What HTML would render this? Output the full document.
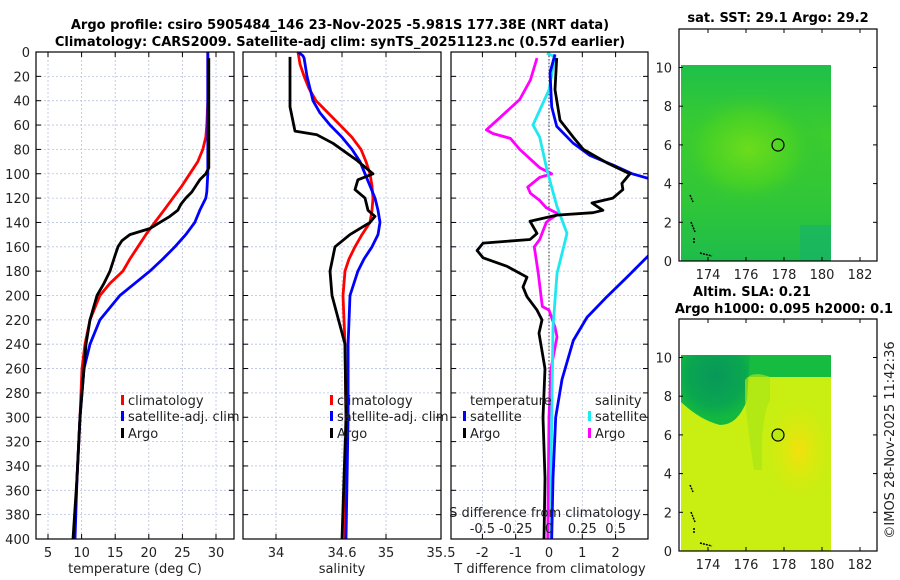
<!DOCTYPE html>
<html><head><meta charset="utf-8">
<style>
html,body{margin:0;padding:0;background:#fff;}
svg{display:block;font-family:"DejaVu Sans","Liberation Sans",sans-serif;}
</style></head>
<body>
<svg id="fig" width="900" height="580" viewBox="0 0 900 580">
<defs>
<clipPath id="c1"><rect x="36" y="52" width="198" height="487"/></clipPath>
<clipPath id="c2"><rect x="243" y="52" width="198" height="487"/></clipPath>
<clipPath id="c3"><rect x="451" y="52" width="197" height="487"/></clipPath>
<radialGradient id="sstBlob" cx="0.45" cy="0.45" r="0.5"><stop offset="0" stop-color="#6cdc1c"/><stop offset="0.6" stop-color="#44d028"/><stop offset="1" stop-color="#2cc43a" stop-opacity="0"/></radialGradient>
<linearGradient id="sstBase" x1="0" y1="0" x2="0" y2="1"><stop offset="0" stop-color="#1ec04a"/><stop offset="0.35" stop-color="#3ccc2e"/><stop offset="0.7" stop-color="#30c638"/><stop offset="1" stop-color="#1ebc4c"/></linearGradient>
<radialGradient id="slaYel" cx="0.55" cy="0.5" r="0.5"><stop offset="0" stop-color="#f4e00c"/><stop offset="1" stop-color="#d4ee10" stop-opacity="0"/></radialGradient>
<radialGradient id="slaDark" cx="0.5" cy="0.3" r="0.6"><stop offset="0" stop-color="#08985a"/><stop offset="0.7" stop-color="#0aa650"/><stop offset="1" stop-color="#12b840"/></radialGradient>
</defs>
<g id="titles">
<text x="340" y="29" text-anchor="middle" font-size="13" font-weight="bold">Argo profile: csiro 5905484_146 23-Nov-2025 -5.981S 177.38E (NRT data)</text>
<text x="340" y="46" text-anchor="middle" font-size="13" font-weight="bold">Climatology: CARS2009. Satellite-adj clim: synTS_20251123.nc (0.57d earlier)</text>
</g>
<g id="p1"></g>
<g id="p2"></g>
<g id="p3"></g>
<g id="m1">
<text x="778" y="22" text-anchor="middle" font-size="13" font-weight="bold">sat. SST: 29.1 Argo: 29.2</text>
<rect x="681" y="65" width="150" height="196" fill="url(#sstBase)"/>
<rect x="681" y="95" width="150" height="120" fill="url(#sstBlob)"/>
<rect x="800" y="225" width="31" height="36" fill="#18b466" opacity="0.7"/>
<circle cx="778" cy="145" r="6" fill="none" stroke="#000" stroke-width="1.2"/>
</g>
<g id="m2">
<text x="752" y="296" text-anchor="middle" font-size="13" font-weight="bold">Altim. SLA: 0.21</text>
<text x="784" y="313" text-anchor="middle" font-size="13" font-weight="bold">Argo h1000: 0.095 h2000: 0.1</text>
<rect x="681" y="355" width="150" height="196" fill="#c8ee12"/>
<rect x="681" y="355" width="150" height="22" fill="#16bc40"/>
<path d="M681 355 H750 L747 400 Q738 425 720 425 Q700 420 681 402 Z" fill="url(#slaDark)"/>
<path d="M745 380 Q752 370 770 377 L770 400 Q760 420 762 470 L754 470 Q748 430 745 400 Z" fill="#a8e614" opacity="0.7"/>
<rect x="760" y="395" width="71" height="110" fill="url(#slaYel)"/>
<circle cx="778" cy="435" r="6" fill="#b8ea12" stroke="#000" stroke-width="1.2"/>
</g>
<text transform="translate(894,440) rotate(-90)" text-anchor="middle" font-size="13" fill="#222">©IMOS 28-Nov-2025 11:42:36</text>
</svg>
<script>
// ===== data =====
const depthTicks = [0,20,40,60,80,100,120,140,160,180,200,220,240,260,280,300,320,340,360,380,400];
const tempTicks = [5,10,15,20,25,30];
const salTicks = [34,34.6,35,35.5];
const dTTicks = [-2,-1,0,1,2];
const dTLabels = ["-2","-1","0","1","2"];
const dSTicks = [-0.5,-0.25,0,0.25,0.5];
const dSLabels = ["-0.5","-0.25","0","0.25","0.5"];
const lonTicks = [174,176,178,180,182];
const latTicks = [0,2,4,6,8,10];

const tClimDepth = [0,20,40,60,70,80,90,100,110,120,130,140,150,160,170,180,190,200,220,240,260,300,350,400];
const tClimVal = [28.78,28.78,28.78,28.63,28.48,28.04,27.29,26.1,24.92,23.58,22.24,20.9,19.57,18.38,17.19,16.15,14.22,12.73,11.25,10.5,10.06,9.76,9.31,8.87];
const tSatDepth = [0,100,115,120,130,140,150,160,170,180,190,200,220,240,260,280,300,350,400];
const tSatVal = [28.78,28.78,28.63,28.48,27.59,26.85,25.51,23.88,22.09,20.16,17.93,15.7,12.73,11.25,10.36,10.06,9.76,9.31,9.02];
const tArgoDepth = [5,95,100,105,110,115,120,125,130,135,140,145,150,155,160,165,170,180,190,200,220,240,260,300,350,400];
const tArgoVal = [28.93,28.93,28.48,27.59,27.0,26.4,25.51,24.77,24.32,23.13,21.65,20.16,17.19,16.0,15.41,15.11,14.81,14.22,13.33,12.29,11.25,10.65,10.36,9.76,9.31,8.72];

const sClimDepth = [0,10,20,30,40,50,60,70,80,90,100,110,120,130,140,150,160,170,180,200,240,300,400];
const sClimVal = [34.2,34.218,34.255,34.3,34.364,34.473,34.582,34.69,34.773,34.818,34.855,34.873,34.882,34.873,34.855,34.782,34.718,34.664,34.627,34.609,34.627,34.636,34.627];
const sSatDepth = [0,3,5,20,40,50,60,70,80,90,100,110,120,130,140,150,160,170,180,200,240,300,400];
const sSatVal = [34.2,34.245,34.255,34.282,34.336,34.4,34.491,34.6,34.691,34.764,34.809,34.855,34.9,34.927,34.945,34.927,34.873,34.8,34.745,34.673,34.655,34.655,34.636];
const sArgoDepth = [4,45,65,68,75,89,100,105,113,120,130,135,140,150,160,180,200,240,300,350,400];
const sArgoVal = [34.127,34.127,34.173,34.373,34.518,34.736,34.882,34.745,34.718,34.809,34.836,34.9,34.855,34.673,34.536,34.491,34.509,34.627,34.636,34.618,34.6];

const dTSatDepth = [2,17,45,61,75,85,93,100,104,130,167,185,201,218,237,269,300,350,400];
const dTSatVal = [0.18,0.03,0.08,0.23,0.73,1.23,1.93,2.5,3.0,4.5,3.0,2.34,1.74,1.14,0.73,0.39,0.2,0.12,0.08];
const dTArgoDepth = [5,31,56,70,80,91,100,108,113,120,124,130,132,134,139,149,154,157,163,169,176,185,193,201,212,220,231,260,300,350,400];
const dTArgoVal = [0.23,0.18,0.33,0.73,1.03,1.74,2.43,2.19,2.22,1.92,1.29,1.62,1.32,0.24,-0.57,-0.36,-0.57,-1.98,-2.16,-1.98,-1.26,-0.66,-0.78,-0.66,-0.36,-0.21,-0.3,-0.12,-0.18,-0.12,-0.15];
const dSSatDepth = [1,4,31,60,70,97,127,149,182,226,300,400];
const dSSatVal = [-0.015,0.045,0.0,-0.12,-0.07,-0.015,0.06,0.135,0.06,0.03,0.02,0.01];
const dSArgoDepth = [5,23,39,56,64,67,71,80,95,100,103,111,116,122,128,133,138,140,154,160,182,209,212,226,234,260,300,400];
const dSArgoVal = [-0.09,-0.14,-0.22,-0.39,-0.47,-0.42,-0.29,-0.22,-0.07,0.02,-0.07,-0.16,-0.14,-0.07,-0.02,0.07,0.0,-0.02,-0.07,-0.11,-0.08,-0.05,0.0,0.045,0.06,0.015,0.0,-0.01];

// ===== helpers =====
const NS = "http://www.w3.org/2000/svg";
function mk(tag, attrs, parent){const e=document.createElementNS(NS,tag);for(const k in attrs)e.setAttribute(k,attrs[k]);parent.appendChild(e);return e;}
const yTop=52, yBot=539;
function yD(d){return yTop+(d/400)*(yBot-yTop);}
function lin(d0,d1,r0,r1){return v=>r0+(v-d0)/(d1-d0)*(r1-r0);}

function frame(g,x0,x1,xticksPos,showYLabels){
  xticksPos.forEach(x=>{mk('line',{x1:x,x2:x,y1:yTop,y2:yBot,stroke:'#b8c0e0','stroke-width':0.8,'stroke-dasharray':'2,2'},g);});
  depthTicks.forEach(d=>{const y=yD(d);
    mk('line',{x1:x0,x2:x1,y1:y,y2:y,stroke:'#b8c0e0','stroke-width':0.8,'stroke-dasharray':'2,2'},g);
    mk('line',{x1:x0,x2:x0+5,y1:y,y2:y,stroke:'#000','stroke-width':1},g);
    mk('line',{x1:x1-5,x2:x1,y1:y,y2:y,stroke:'#000','stroke-width':1},g);
    if(showYLabels){const t=mk('text',{x:30,y:y+5,'text-anchor':'end','font-size':13,fill:'#222'},g);t.textContent=d;
      
      }
  });
  xticksPos.forEach(x=>{mk('line',{x1:x,x2:x,y1:yTop,y2:yTop+5,stroke:'#000'},g);mk('line',{x1:x,x2:x,y1:yBot-5,y2:yBot,stroke:'#000'},g);});
}
function border(g,x0,x1,name){const r=mk('rect',{x:x0,y:yTop,width:x1-x0,height:yBot-yTop,fill:'none',stroke:'#000','stroke-width':1.2},g);
  
  }
function series(g,depths,vals,sx,color,clip,name){
  const pts=depths.map((d,i)=>sx(vals[i]).toFixed(1)+','+yD(d).toFixed(1)).join(' ');
  const p=mk('polyline',{points:pts,fill:'none',stroke:color,'stroke-width':2.8,'stroke-linejoin':'round','clip-path':'url(#'+clip+')'},g);
  
  
}
function label(g,x,y,txt,anchor,name,size){const t=mk('text',{x:x,y:y,'text-anchor':anchor||'middle','font-size':size||13,fill:'#222'},g);t.textContent=txt;
  
  return t;}
function legend(g,x,y,color,txt,name){mk('rect',{x:x,y:y-10,width:3,height:10,fill:color},g);
  label(g,x+7,y,txt,'start',name);}

// ===== panel 1 temperature =====
(function(){const g=document.getElementById('p1');const sx=lin(5,30,48,216);
  frame(g,36,234,tempTicks.map(sx),true);
  series(g,tClimDepth,tClimVal,sx,'#f00','c1','temp-climatology-line');
  series(g,tSatDepth,tSatVal,sx,'#00f','c1','temp-satellite-line');
  series(g,tArgoDepth,tArgoVal,sx,'#000','c1','temp-argo-line');
  border(g,36,234,'temperature-axes');
  tempTicks.forEach(v=>label(g,sx(v),557,String(v),'middle','temp-tick-label'));
  label(g,135,573,'temperature (deg C)','middle','temp-axis-title');
  legend(g,121,405,'#f00','climatology','legend-climatology');
  legend(g,121,421,'#00f','satellite-adj. clim','legend-satellite');
  legend(g,121,438,'#000','Argo','legend-argo');
})();
// ===== panel 2 salinity =====
(function(){const g=document.getElementById('p2');const sx=lin(34,35,276,386);
  frame(g,243,441,salTicks.map(sx),false);
  series(g,sClimDepth,sClimVal,sx,'#f00','c2','sal-climatology-line');
  series(g,sSatDepth,sSatVal,sx,'#00f','c2','sal-satellite-line');
  series(g,sArgoDepth,sArgoVal,sx,'#000','c2','sal-argo-line');
  border(g,243,441,'salinity-axes');
  salTicks.forEach(v=>label(g,sx(v),557,String(v),'middle','sal-tick-label'));
  label(g,342,573,'salinity','middle','sal-axis-title');
  legend(g,330,405,'#f00','climatology','legend-sal-climatology');
  legend(g,330,421,'#00f','satellite-adj. clim','legend-sal-satellite');
  legend(g,330,438,'#000','Argo','legend-sal-argo');
})();
// ===== panel 3 differences =====
(function(){const g=document.getElementById('p3');const sx=lin(0,1,549,582.3);const ss=lin(0,0.25,549,582.3);
  frame(g,451,648,dTTicks.map(sx),false);
  mk('line',{x1:sx(0),x2:sx(0),y1:yTop,y2:yBot,stroke:'#333','stroke-width':1,'stroke-dasharray':'1.5,2'},g);
  series(g,dSArgoDepth,dSArgoVal,ss,'#f0f','c3','sdiff-argo-line');
  series(g,dSSatDepth,dSSatVal,ss,'#1ee8f0','c3','sdiff-satellite-line');
  series(g,dTSatDepth,dTSatVal,sx,'#00f','c3','tdiff-satellite-line');
  series(g,dTArgoDepth,dTArgoVal,sx,'#000','c3','tdiff-argo-line');
  border(g,451,648,'difference-axes');
  dTTicks.forEach((v,i)=>label(g,sx(v),557,dTLabels[i],'middle','tdiff-tick-label'));
  label(g,550,573,'T difference from climatology','middle','tdiff-axis-title');
  label(g,545,517,'S difference from climatology','middle','sdiff-axis-title');
  dSTicks.forEach((v,i)=>label(g,ss(v),533,dSLabels[i],'middle','sdiff-tick-label'));
  label(g,470,405,'temperature','start','legend-temperature-header');
  label(g,595,405,'salinity','start','legend-salinity-header');
  legend(g,463,421,'#00f','satellite','legend-tdiff-satellite');
  legend(g,463,438,'#000','Argo','legend-tdiff-argo');
  legend(g,588,421,'#1ee8f0','satellite','legend-sdiff-satellite');
  legend(g,588,438,'#f0f','Argo','legend-sdiff-argo');
})();
// ===== maps =====
function mapAxes(id,top,bot){const g=document.getElementById(id);
  const sx=lin(174,182,708,860);const sy=lin(0,10,bot,bot-193.5);
  mk('rect',{x:679,y:top,width:198,height:bot-top,fill:'none',stroke:'#000','stroke-width':1.2},g);
  lonTicks.forEach(v=>{const x=sx(v);mk('line',{x1:x,x2:x,y1:bot,y2:bot-4,stroke:'#000'},g);mk('line',{x1:x,x2:x,y1:top,y2:top+4,stroke:'#000'},g);
    label(g,x,bot+18,String(v),'middle','lon-tick-label');});
  latTicks.forEach(v=>{const y=sy(v);mk('line',{x1:679,x2:683,y1:y,y2:y,stroke:'#000'},g);mk('line',{x1:873,x2:877,y1:y,y2:y,stroke:'#000'},g);
    label(g,672,y+5,String(v),'end','lat-tick-label');});
  [[690,195,693,202],[691,222,695,232],[694,238,694,244],[700,253,712,256]].forEach(c=>mk('line',{x1:c[0],y1:c[1]+(bot-261),x2:c[2],y2:c[3]+(bot-261),stroke:'#000','stroke-width':1.5,'stroke-dasharray':'2,1'},g));
}
mapAxes('m1',29,261);
mapAxes('m2',319,551);
</script>
</body></html>
